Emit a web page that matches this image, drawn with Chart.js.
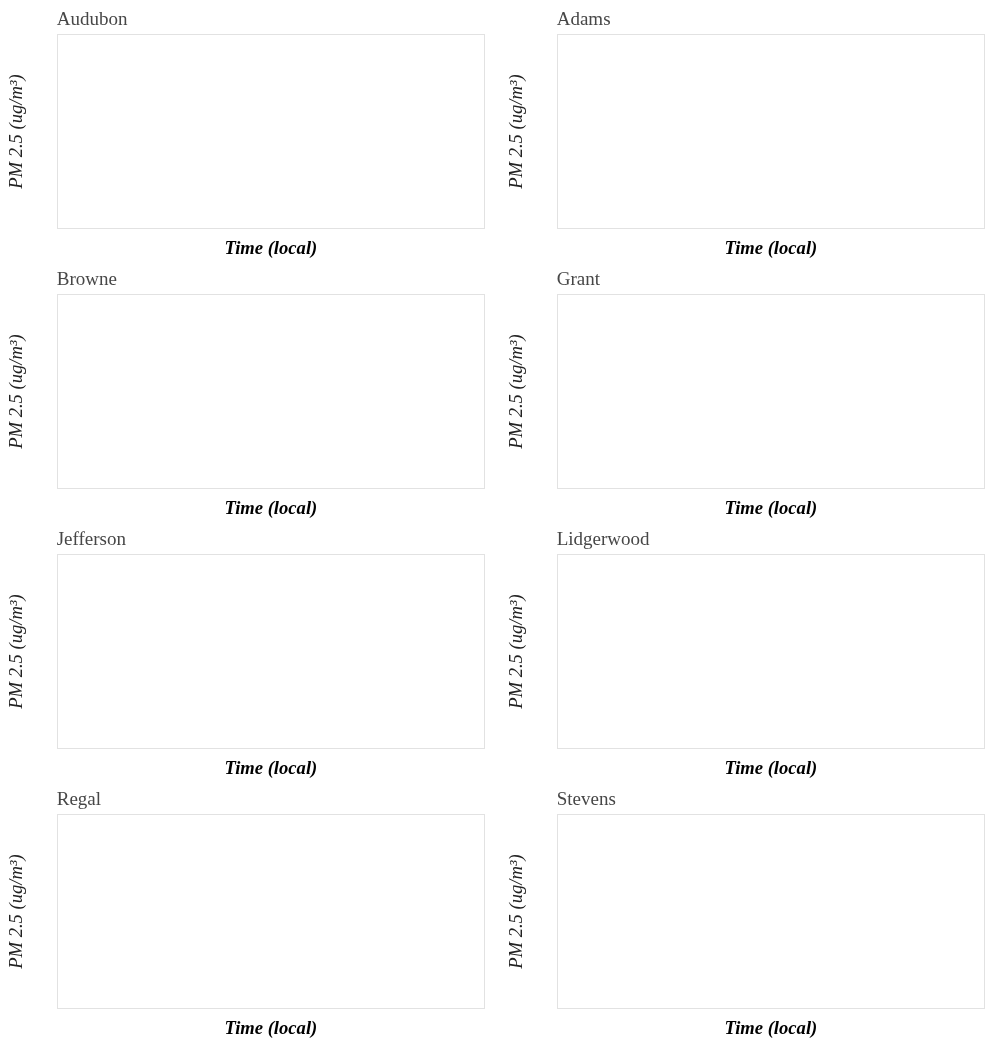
<!DOCTYPE html>
<html>
<head>
<meta charset="utf-8">
<script src="https://cdn.jsdelivr.net/npm/chart.js@4"></script>
<style>
  html, body { margin: 0; padding: 0; background: #fff; }
  #grid { display: grid; grid-template-columns: 500px 500px; grid-auto-rows: 260px; width: 1000px; }
  canvas { display: block; }
</style>
</head>
<body>
<div id="grid"></div>
<script>
// Data (the reference panels contain no plotted readings)
const stations = ["Audubon", "Adams", "Browne", "Grant", "Jefferson", "Lidgerwood", "Regal", "Stevens"];
const timeLabels = [];
const pm25Values = [[], [], [], [], [], [], [], []];
const yAxisTitle = "PM 2.5 (ug/m\u00B3)";
const xAxisTitle = "Time (local)";

const FONT = "'Liberation Serif', 'Times New Roman', serif";

const areaBorder = {
  id: 'areaBorder',
  afterDraw(chart) {
    const a = chart.chartArea, ctx = chart.ctx;
    ctx.save();
    ctx.strokeStyle = '#e2e2e2';
    ctx.lineWidth = 1;
    ctx.strokeRect(Math.round(a.left) + 0.5, Math.round(a.top) + 0.5,
                   Math.round(a.right - a.left) - 1, Math.round(a.bottom - a.top) - 1);
    ctx.restore();
  }
};

const grid = document.getElementById('grid');
stations.forEach((name, i) => {
  const cell = document.createElement('div');
  const cv = document.createElement('canvas');
  cv.width = 500; cv.height = 260;
  cell.appendChild(cv);
  grid.appendChild(cell);
  new Chart(cv, {
    type: 'line',
    data: {
      labels: timeLabels,
      datasets: [{ label: name, data: pm25Values[i], borderColor: '#3366cc', pointRadius: 0 }]
    },
    options: {
      responsive: false,
      animation: false,
      events: [],
      layout: { padding: { left: 0, right: 15, top: 0, bottom: 0 } },
      plugins: {
        legend: { display: false },
        tooltip: { enabled: false },
        title: {
          display: true, text: name, align: 'start', fullSize: false,
          color: '#474747',
          font: { family: FONT, size: 19, weight: 'normal' },
          padding: { top: 9, bottom: 2.2 }
        }
      },
      scales: {
        x: {
          type: 'category',
          grid: { display: false },
          border: { display: false },
          ticks: { display: false },
          title: {
            display: true, text: xAxisTitle, color: '#000',
            font: { family: FONT, size: 18.6, style: 'italic', weight: 'bold' },
            padding: { top: 0.5, bottom: 0 }
          }
        },
        y: {
          type: 'linear',
          grid: { display: false },
          border: { display: false },
          ticks: { display: false },
          title: {
            display: true, text: yAxisTitle, color: '#222',
            font: { family: FONT, size: 18.6, style: 'italic', weight: 'normal' },
            padding: { top: 6, bottom: 20.4 }
          }
        }
      }
    },
    plugins: [areaBorder]
  });
});
</script>
</body>
</html>
